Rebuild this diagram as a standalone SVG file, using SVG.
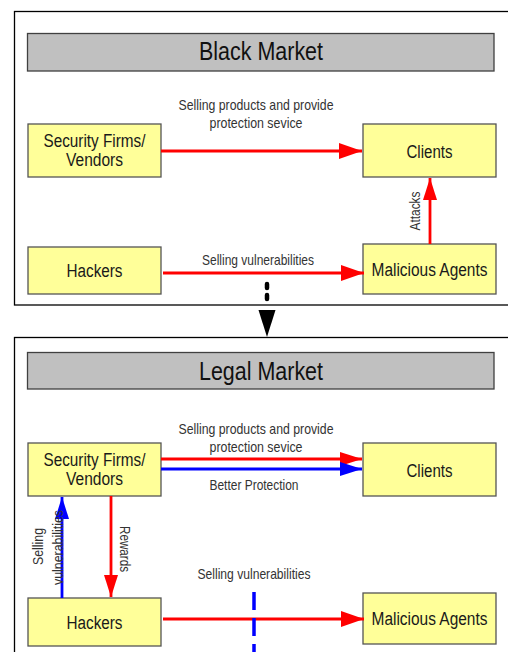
<svg xmlns="http://www.w3.org/2000/svg" width="508" height="652" viewBox="0 0 508 652">
  <style>
    .frame { fill: #ffffff; stroke: #000000; stroke-width: 1.3; }
    .bar { fill: #c0c0c0; stroke: #404040; stroke-width: 1.3; }
    .node { fill: #ffff99; stroke: #555555; stroke-width: 1.3; }
    text { font-family: "Liberation Sans", Arial, sans-serif; }
    .title { font-size: 25px; fill: #111111; text-anchor: middle; }
    .label { font-size: 18px; fill: #1a1a1a; text-anchor: middle; }
    .edge-label { font-size: 15px; fill: #333333; text-anchor: middle; }
    .red { stroke: #ff0000; stroke-width: 2.8; fill: none; }
    .blue { stroke: #0000ff; stroke-width: 2.8; fill: none; }
  </style>
  <defs>
    <marker id="head-red" markerUnits="userSpaceOnUse" markerWidth="24" markerHeight="18" refX="23" refY="8" orient="auto">
      <path d="M0,0 L23,8 L0,16 Z" fill="#ff0000"/>
    </marker>
    <marker id="head-blue" markerUnits="userSpaceOnUse" markerWidth="24" markerHeight="18" refX="23" refY="8" orient="auto">
      <path d="M0,0 L23,8 L0,16 Z" fill="#0000ff"/>
    </marker>
    <marker id="head-red-sm" markerUnits="userSpaceOnUse" markerWidth="24" markerHeight="16" refX="22" refY="7" orient="auto">
      <path d="M0,0 L22,7 L0,14 Z" fill="#ff0000"/>
    </marker>
    <marker id="head-blue-sm" markerUnits="userSpaceOnUse" markerWidth="24" markerHeight="16" refX="22" refY="7" orient="auto">
      <path d="M0,0 L22,7 L0,14 Z" fill="#0000ff"/>
    </marker>
  </defs>

  <!-- Black market panel -->
  <g id="black-market">
    <rect class="frame" x="14.5" y="11.5" width="520" height="293.5"/>
    <rect class="bar" x="27.5" y="33.5" width="466.5" height="37.5"/>
    <text class="title" x="261" y="60" textLength="124" lengthAdjust="spacingAndGlyphs">Black Market</text>
  </g>

  <!-- Legal market panel -->
  <g id="legal-market">
    <rect class="frame" x="14.5" y="337.5" width="520" height="400"/>
    <rect class="bar" x="27.5" y="352.5" width="466.5" height="36.5"/>
    <text class="title" x="261" y="380" textLength="124" lengthAdjust="spacingAndGlyphs">Legal Market</text>
  </g>

  <!-- Black market nodes -->
  <g id="bm-vendors">
    <rect class="node" x="28" y="124" width="133" height="53"/>
    <text class="label" x="94.5" y="146.5" textLength="102" lengthAdjust="spacingAndGlyphs">Security Firms/</text>
    <text class="label" x="94.5" y="165.5" textLength="57" lengthAdjust="spacingAndGlyphs">Vendors</text>
  </g>
  <g id="bm-clients">
    <rect class="node" x="363" y="124" width="133" height="53"/>
    <text class="label" x="429.5" y="157.5" textLength="46" lengthAdjust="spacingAndGlyphs">Clients</text>
  </g>
  <g id="bm-hackers">
    <rect class="node" x="28" y="247" width="133" height="47"/>
    <text class="label" x="94.5" y="276.5" textLength="56" lengthAdjust="spacingAndGlyphs">Hackers</text>
  </g>
  <g id="bm-malicious">
    <rect class="node" x="363" y="244" width="133" height="50"/>
    <text class="label" x="429.5" y="275.5" textLength="116" lengthAdjust="spacingAndGlyphs">Malicious Agents</text>
  </g>

  <!-- Legal market nodes -->
  <g id="lm-vendors">
    <rect class="node" x="28" y="443" width="133" height="53"/>
    <text class="label" x="94.5" y="465.5" textLength="102" lengthAdjust="spacingAndGlyphs">Security Firms/</text>
    <text class="label" x="94.5" y="484.5" textLength="57" lengthAdjust="spacingAndGlyphs">Vendors</text>
  </g>
  <g id="lm-clients">
    <rect class="node" x="363" y="443" width="133" height="53"/>
    <text class="label" x="429.5" y="476.5" textLength="46" lengthAdjust="spacingAndGlyphs">Clients</text>
  </g>
  <g id="lm-hackers">
    <rect class="node" x="28" y="598" width="133" height="48"/>
    <text class="label" x="94.5" y="628.5" textLength="56" lengthAdjust="spacingAndGlyphs">Hackers</text>
  </g>
  <g id="lm-malicious">
    <rect class="node" x="363" y="593" width="133" height="51"/>
    <text class="label" x="429.5" y="624.5" textLength="116" lengthAdjust="spacingAndGlyphs">Malicious Agents</text>
  </g>

  <!-- Connectors -->
  <g id="connectors">
    <!-- black market -->
    <line class="red" x1="161" y1="151" x2="362" y2="151" marker-end="url(#head-red)"/>
    <line class="red" x1="430" y1="244" x2="430" y2="178" marker-end="url(#head-red-sm)"/>
    <line class="red" x1="163" y1="273" x2="364" y2="273" marker-end="url(#head-red)"/>

    <!-- transition between the two markets -->
    <line x1="267" y1="284" x2="267" y2="299" stroke="#000000" stroke-width="4.5" stroke-linecap="round" stroke-dasharray="4 7"/>
    <path d="M258.5,310 L275.5,310 L267,337 Z" fill="#000000"/>

    <!-- legal market -->
    <line class="red" x1="161" y1="459" x2="362" y2="459" marker-end="url(#head-red-sm)"/>
    <line class="blue" x1="161" y1="469" x2="362" y2="469" marker-end="url(#head-blue-sm)"/>
    <line class="red" x1="111" y1="496" x2="111" y2="597" marker-end="url(#head-red-sm)"/>
    <line class="blue" x1="62" y1="598" x2="62" y2="497" marker-end="url(#head-blue-sm)"/>
    <line class="red" x1="163" y1="619" x2="364" y2="619" marker-end="url(#head-red)"/>
    <line x1="254" y1="592" x2="254" y2="660" stroke="#0000ff" stroke-width="3.5" stroke-dasharray="18 8"/>

    <!-- edge labels -->
    <text class="edge-label" x="256" y="109.5" textLength="155" lengthAdjust="spacingAndGlyphs">Selling products and provide</text>
    <text class="edge-label" x="256" y="127.5" textLength="93" lengthAdjust="spacingAndGlyphs">protection sevice</text>
    <text class="edge-label" x="258" y="264.5" textLength="112" lengthAdjust="spacingAndGlyphs">Selling vulnerabilities</text>
    <text class="edge-label" transform="translate(419.5,211) rotate(-90)" x="0" y="0" textLength="39" lengthAdjust="spacingAndGlyphs">Attacks</text>

    <text class="edge-label" x="256" y="433.5" textLength="155" lengthAdjust="spacingAndGlyphs">Selling products and provide</text>
    <text class="edge-label" x="256" y="451.5" textLength="93" lengthAdjust="spacingAndGlyphs">protection sevice</text>
    <text class="edge-label" x="254" y="489.5" textLength="89" lengthAdjust="spacingAndGlyphs">Better Protection</text>
    <text class="edge-label" x="254" y="578.5" textLength="113" lengthAdjust="spacingAndGlyphs">Selling vulnerabilities</text>
    <text class="edge-label" transform="translate(42.5,546.5) rotate(-90)" x="0" y="0" textLength="37" lengthAdjust="spacingAndGlyphs">Selling</text>
    <text class="edge-label" transform="translate(62.5,547.5) rotate(-90)" x="0" y="0" textLength="75" lengthAdjust="spacingAndGlyphs">vulnerabilities</text>
    <text class="edge-label" transform="translate(119.5,549) rotate(90)" x="0" y="0" textLength="46" lengthAdjust="spacingAndGlyphs">Rewards</text>
  </g>
</svg>
